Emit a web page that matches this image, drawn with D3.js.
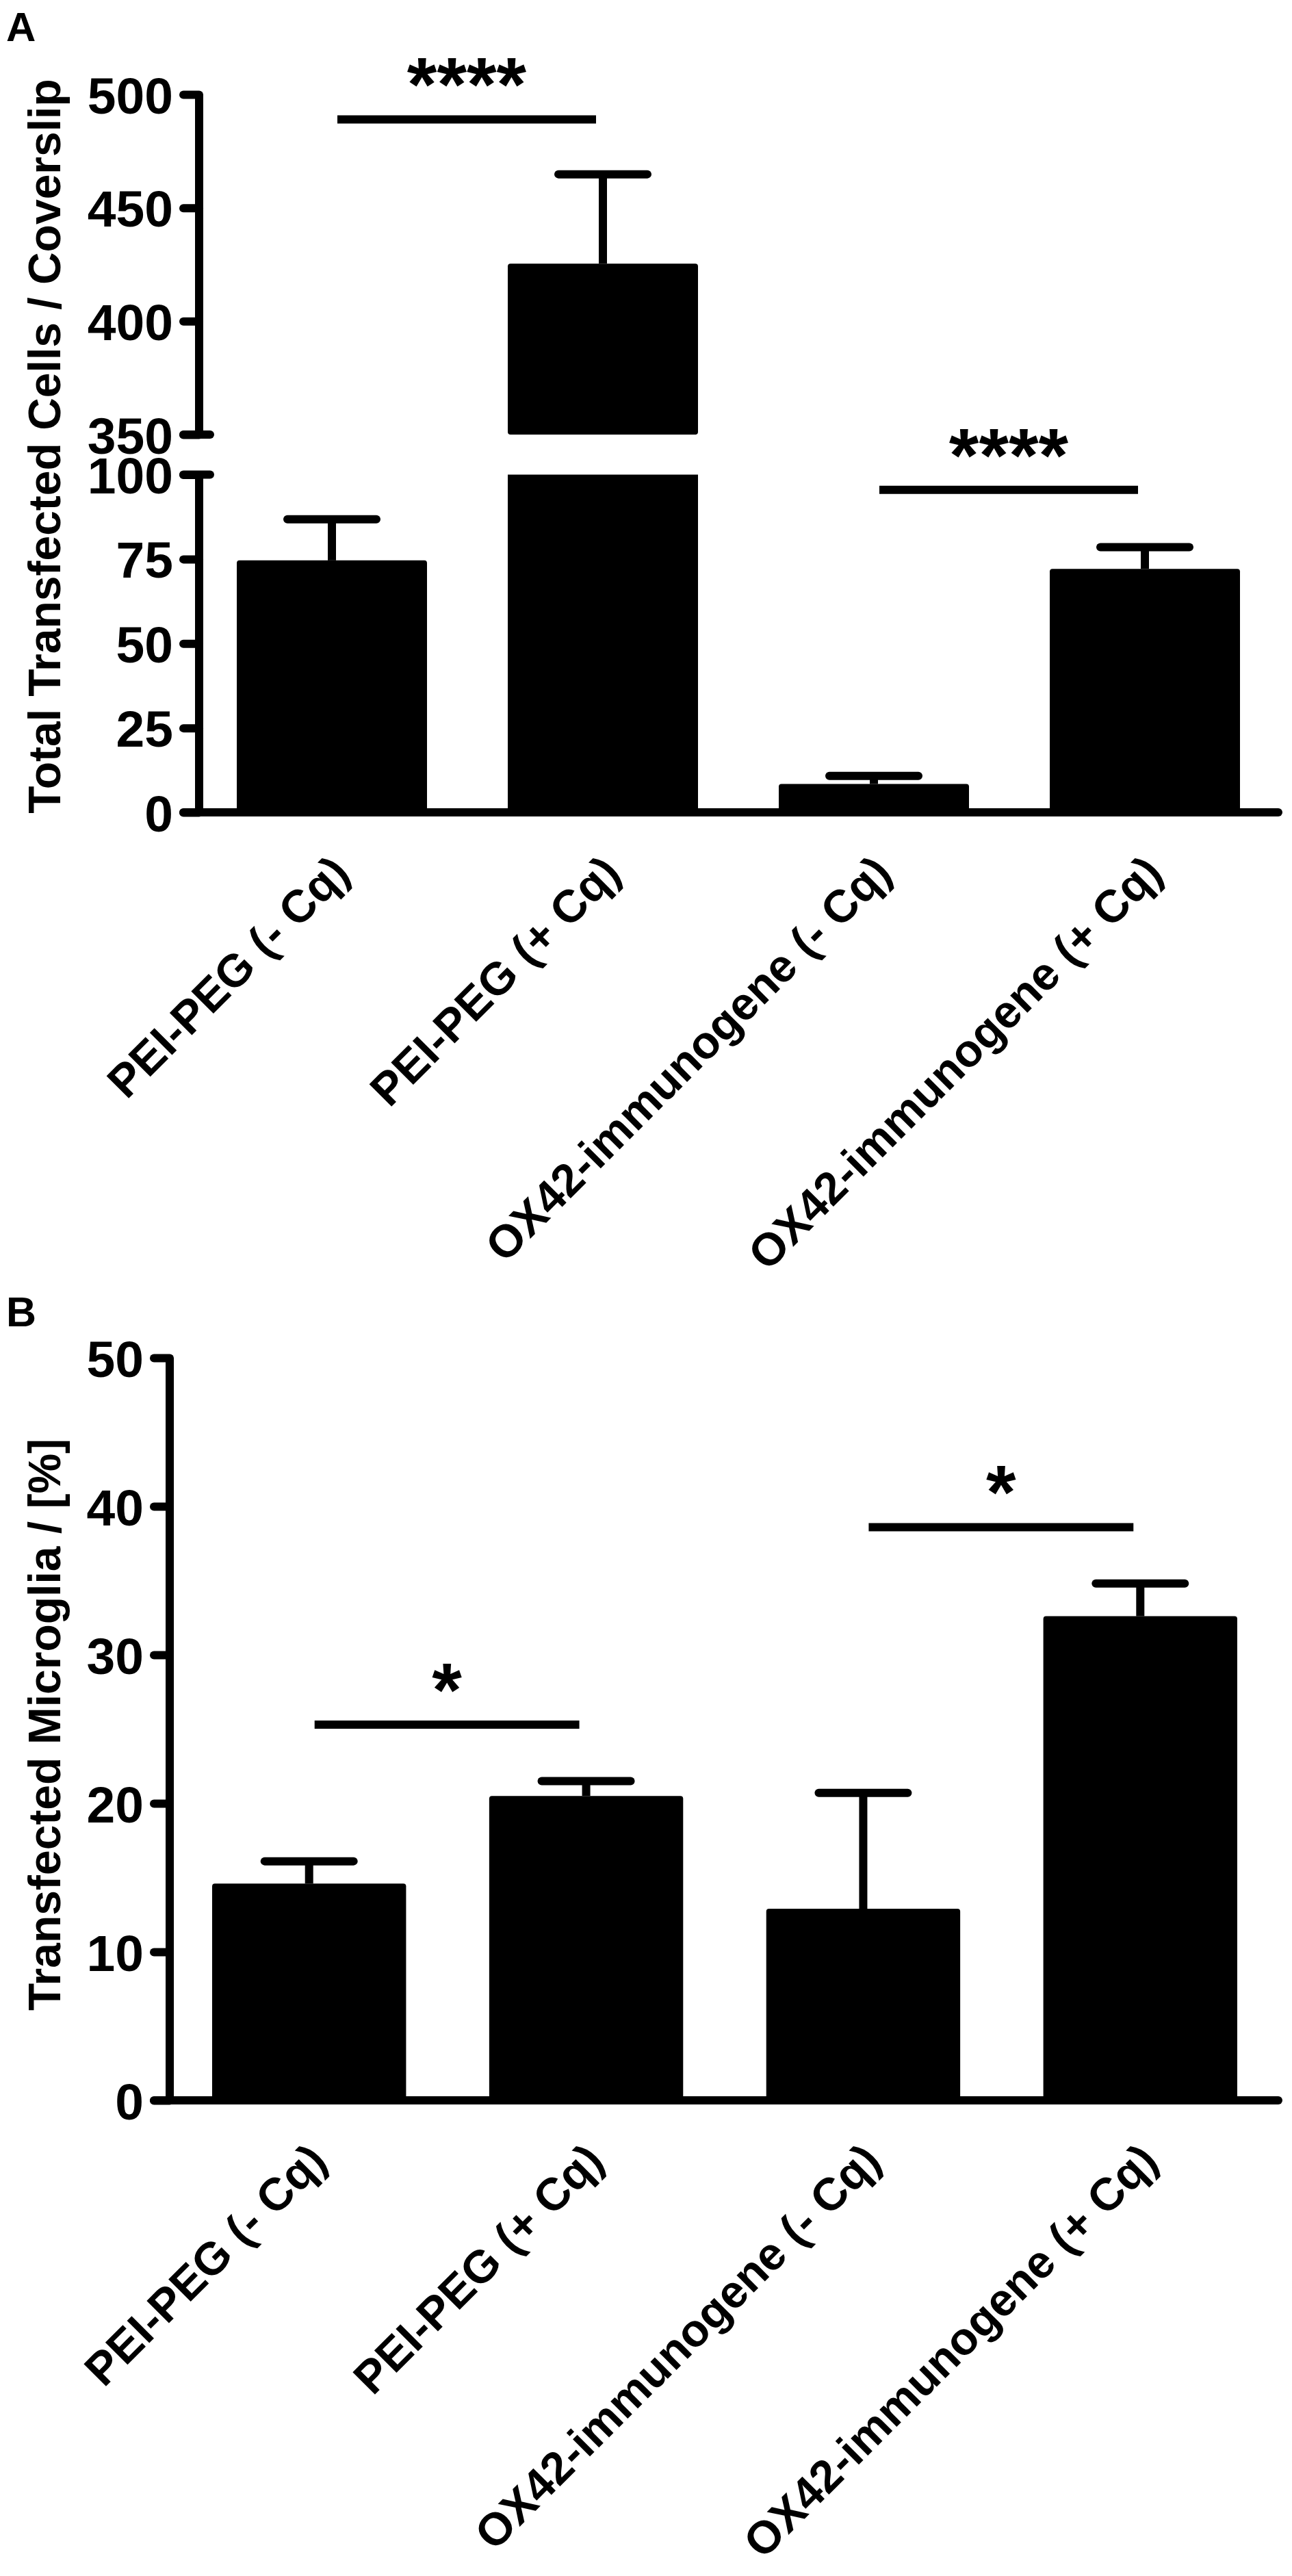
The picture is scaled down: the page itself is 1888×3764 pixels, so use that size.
<!DOCTYPE html>
<html>
<head>
<meta charset="utf-8">
<script src="https://cdn.jsdelivr.net/npm/d3@7/dist/d3.min.js"></script>
<style>
  body { margin: 0; background: #fff; }
  svg { display: block; font-family: "Liberation Sans", Arial, Helvetica, sans-serif; font-weight: bold; }
</style>
</head>
<body>
<div id="chart"></div>
<script>
var groups = ['PEI-PEG (- Cq)', 'PEI-PEG (+ Cq)', 'OX42-immunogene (- Cq)', 'OX42-immunogene (+ Cq)'];

// panel A: total transfected cells per coverslip (broken axis)
var totalMean = [74.6, 425.4, 8.4, 72.1];
var totalSem = [12.2, 39.4, 2.4, 6.4];
var totalTicksLow = [0, 25, 50, 75, 100];
var totalTicksHigh = [350, 400, 450, 500];
var totalSigPairs = [[0, 1], [2, 3]];
var totalSigLevel = [489, 95.5];
var totalSigText = ['****', '****'];

// panel B: transfected microglia in %
var microMean = [14.6, 20.5, 12.9, 32.6];
var microSem = [1.5, 1.0, 7.8, 2.2];
var microTicks = [0, 10, 20, 30, 40, 50];
var microSigPairs = [[0, 1], [2, 3]];
var microSigLevel = [25.3, 38.6];
var microSigText = ['*', '*'];

(function() {

  var svg = d3.select('#chart')
              .append('svg')
              .attr('width', 1888)
              .attr('height', 3764);

  var lw = 12;

  function line(g, x1, y1, x2, y2, cap) {
    return g.append('line')
      .attr('x1', x1).attr('y1', y1).attr('x2', x2).attr('y2', y2)
      .attr('stroke', '#000')
      .attr('stroke-width', lw)
      .attr('stroke-linecap', cap || 'round');
  }

  function styleAxis(g) {
    g.select('.domain').remove();
    g.selectAll('.tick line')
      .attr('stroke', '#000')
      .attr('stroke-width', lw)
      .attr('stroke-linecap', 'round');
    g.selectAll('.tick text')
      .attr('fill', '#000')
      .attr('font-size', 75)
      .attr('font-family', null)
      .attr('dy', '0.36em');
  }

  function xLabels(g, x, base) {
    g.selectAll('text.xl')
      .data(groups)
      .enter()
      .append('text')
      .attr('class', 'xl')
      .attr('font-size', 67)
      .attr('text-anchor', 'end')
      .attr('transform', function(d) {
        return 'translate(' + (x(d) + x.bandwidth() / 2 + 29) + ',' + (base + 92) + ') rotate(-45)';
      })
      .text(function(d) {return d});
  }

  function yTitle(g, cy, txt) {
    g.append('text')
      .attr('font-size', 66)
      .attr('text-anchor', 'middle')
      .attr('transform', 'translate(88,' + cy + ') rotate(-90)')
      .text(txt);
  }

  function sig(g, x, yScale, pairs, levels, texts) {
    pairs.forEach(function(p, i) {
      var x1 = x(groups[p[0]]) + x.bandwidth() / 2 + 8;
      var x2 = x(groups[p[1]]) + x.bandwidth() / 2 - 10;
      var y = yScale(levels[i]);
      line(g, x1, y, x2, y, 'butt');
      g.append('text')
        .attr('x', (x1 + x2) / 2)
        .attr('y', y - 12)
        .attr('text-anchor', 'middle')
        .attr('font-size', 112)
        .text(texts[i]);
    });
  }

  // ---------- panel A ----------
  var a = svg.append('g');
  var axA = 291;
  var baseA = 1187;

  var xA = d3.scaleBand()
    .domain(groups)
    .range([346, 1812])
    .paddingInner(0.298);

  var yLow = d3.scaleLinear().domain([0, 100]).range([baseA, 693.5]);
  var yHigh = d3.scaleLinear().domain([350, 500]).range([635, 138]);
  function yA(v) { return v > 100 ? yHigh(v) : yLow(v); }

  a.append('text').attr('x', 9).attr('y', 60).attr('font-size', 60).text('A');

  // bars (split at the axis break when needed)
  totalMean.forEach(function(v, i) {
    var x0 = xA(groups[i]);
    if (v > 100) {
      a.append('rect').attr('x', x0).attr('width', xA.bandwidth())
        .attr('y', yLow(100)).attr('height', yLow(0) - yLow(100)).attr('fill', '#000');
      a.append('rect').attr('x', x0).attr('width', xA.bandwidth())
        .attr('y', yHigh(v)).attr('height', yHigh(350) - yHigh(v)).attr('fill', '#000').attr('rx', 4);
    } else {
      a.append('rect').attr('x', x0).attr('width', xA.bandwidth())
        .attr('y', yLow(v)).attr('height', yLow(0) - yLow(v)).attr('fill', '#000').attr('rx', 4);
    }
    var cx = x0 + xA.bandwidth() / 2;
    var top = yA(v + totalSem[i]);
    line(a, cx, yA(v), cx, top, 'butt');
    line(a, cx - 65, top, cx + 65, top);
  });

  var axLow = a.append('g')
    .attr('transform', 'translate(' + axA + ',0)')
    .call(d3.axisLeft(yLow).tickValues(totalTicksLow).tickSize(23).tickPadding(15));
  styleAxis(axLow);
  var axHigh = a.append('g')
    .attr('transform', 'translate(' + axA + ',0)')
    .call(d3.axisLeft(yHigh).tickValues(totalTicksHigh).tickSize(23).tickPadding(15));
  styleAxis(axHigh);

  line(a, axA, yHigh(500), axA, yHigh(350), 'butt');
  line(a, axA, yLow(100), axA, yLow(0), 'butt');
  // break caps
  line(a, axA - 23, yHigh(350), axA + 16, yHigh(350));
  line(a, axA - 23, yLow(100), axA + 16, yLow(100));
  // baseline
  line(a, axA - 23, baseA, 1868, baseA);

  sig(a, xA, yA, totalSigPairs, totalSigLevel, totalSigText);
  yTitle(a, 652, 'Total Transfected Cells / Coverslip');
  xLabels(a, xA, baseA);

  // ---------- panel B ----------
  var b = svg.append('g');
  var axB = 248;
  var baseB = 3069;

  var xB = d3.scaleBand()
    .domain(groups)
    .range([310, 1808])
    .paddingInner(0.3);

  var yB = d3.scaleLinear().domain([0, 50]).range([baseB, 1984]);

  b.append('text').attr('x', 9).attr('y', 1938).attr('font-size', 61).text('B');

  b.selectAll('rect.bar')
    .data(microMean)
    .enter()
    .append('rect')
    .attr('class', 'bar')
    .attr('x', function(d, i) {return xB(groups[i])})
    .attr('width', xB.bandwidth())
    .attr('y', function(d) {return yB(d)})
    .attr('height', function(d) {return yB(0) - yB(d)})
    .attr('rx', 4)
    .attr('fill', '#000');

  microMean.forEach(function(v, i) {
    var cx = xB(groups[i]) + xB.bandwidth() / 2;
    var top = yB(v + microSem[i]);
    line(b, cx, yB(v), cx, top, 'butt');
    line(b, cx - 65, top, cx + 65, top);
  });

  var axBg = b.append('g')
    .attr('transform', 'translate(' + axB + ',0)')
    .call(d3.axisLeft(yB).tickValues(microTicks).tickSize(23).tickPadding(15));
  styleAxis(axBg);
  line(b, axB, yB(50), axB, yB(0), 'butt');
  line(b, axB - 23, baseB, 1868, baseB);

  sig(b, xB, yB, microSigPairs, microSigLevel, microSigText);
  yTitle(b, 2520, 'Transfected Microglia / [%]');
  xLabels(b, xB, baseB);

})();
</script>
</body>
</html>
